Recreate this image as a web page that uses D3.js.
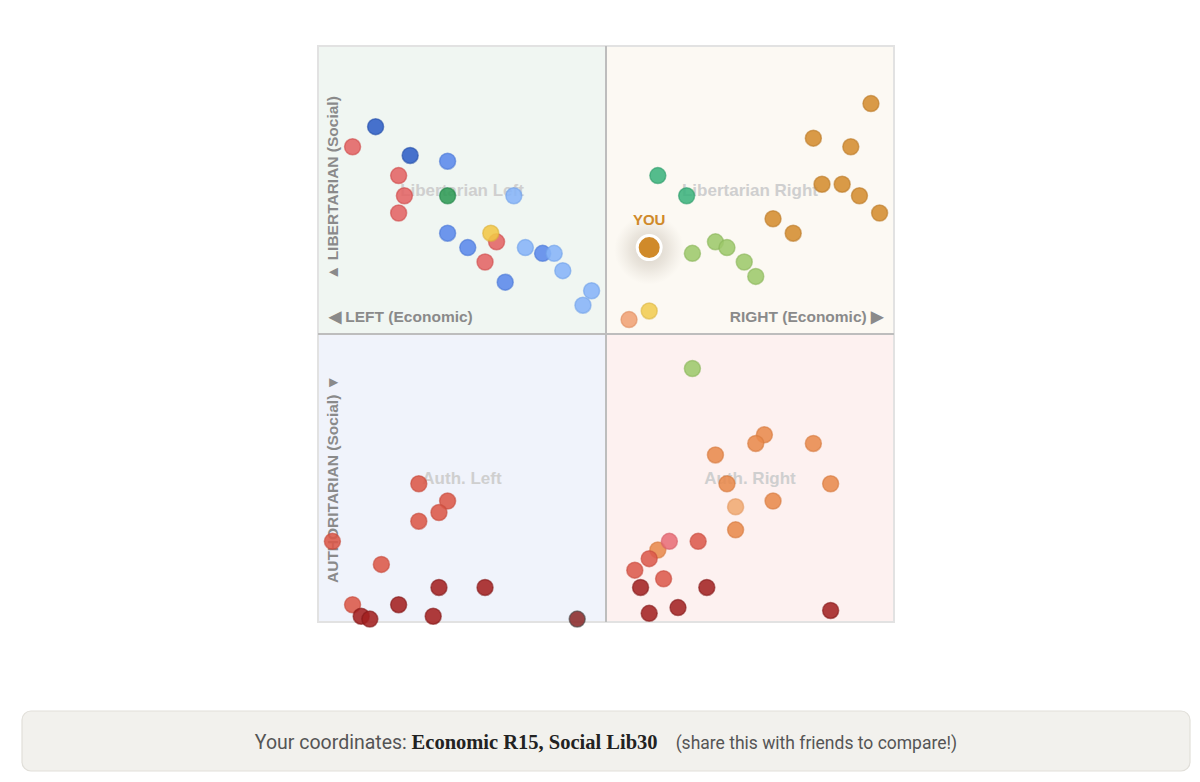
<!DOCTYPE html>
<html>
<head>
<meta charset="utf-8">
<script src="https://cdn.jsdelivr.net/npm/d3@7"></script>
<style>
  html, body { margin: 0; padding: 0; background: #ffffff; }
  svg { display: block; }
</style>
</head>
<body>
<svg id="chart" width="1200" height="782"></svg>
<script>
// ---- DATA: [economic (-100 left .. 100 right), social (-100 auth .. 100 lib)] ----
const libLeftRed = [[-88,65],[-72,55],[-70,48],[-72,42],[-38,32],[-42,25]];
const libLeftDarkBlue = [[-80,72],[-68,62]];
const libLeftBlue = [[-55,60],[-55,35],[-48,30],[-22,28],[-35,18]];
const libLeftLightBlue = [[-32,48],[-28,30],[-18,28],[-15,22],[-5,15],[-8,10]];
const libLeftGreen = [[-55,48]];
const libLeftYellow = [[-40,35]];
const libRightBrown = [[92,80],[72,68],[85,65],[75,52],[82,52],[88,48],[95,42],[58,40],[65,35]];
const libRightGreen = [[18,55],[28,48]];
const libRightLightGreen = [[30,28],[38,32],[42,30],[48,25],[52,20],[30,-12]];
const libRightYellow = [[15,8]];
const libRightPeach = [[8,5]];
const authLeftRed = [[-65,-52],[-55,-58],[-58,-62],[-65,-65],[-95,-72],[-78,-80],[-88,-94]];
const authLeftDarkRed = [[-58,-88],[-42,-88],[-72,-94],[-85,-98],[-82,-99],[-60,-98]];
const authLeftGray = [[-10,-99]];
const authRightOrange = [[55,-35],[52,-38],[72,-38],[38,-42],[42,-52],[78,-52],[58,-58],[45,-68],[18,-75]];
const authRightPeach = [[45,-60]];
const authRightPink = [[22,-72]];
const authRightRed = [[32,-72],[15,-78],[10,-82],[20,-85]];
const authRightDarkRed = [[12,-88],[35,-88],[25,-95],[15,-97],[78,-96]];
const you = [15, 30];

const quadrantLabels = ["Libertarian Left", "Libertarian Right", "Auth. Left", "Auth. Right"];
const axisLabels = ["\u25C0 LEFT (Economic)", "RIGHT (Economic) \u25B6", "\u25B2 LIBERTARIAN (Social)", "AUTHORITARIAN (Social) \u25BC"];
const coordText = ["Your coordinates: ", "Economic R15, Social Lib30", "(share this with friends to compare!)"];

// ---- series (groups -> colours) ----
const series = [
  {pts: libLeftRed, fill: "#e36464", stroke: "#cf4a4a"},
  {pts: libLeftDarkBlue, fill: "#2d5fc6", stroke: "#244fa8"},
  {pts: libLeftBlue, fill: "#5a89ea", stroke: "#4a77d6"},
  {pts: libLeftLightBlue, fill: "#86b4f8", stroke: "#72a2ea"},
  {pts: libLeftGreen, fill: "#2f9b55", stroke: "#23864a"},
  {pts: libLeftYellow, fill: "#f1c747", stroke: "#dcb03a"},
  {pts: libRightBrown, fill: "#d48c2f", stroke: "#bb7a26"},
  {pts: libRightGreen, fill: "#3cb37d", stroke: "#2f9d6a"},
  {pts: libRightLightGreen, fill: "#9dc86b", stroke: "#8ab65a"},
  {pts: libRightYellow, fill: "#f1cc52", stroke: "#dcb744"},
  {pts: libRightPeach, fill: "#f0a275", stroke: "#e08e60"},
  {pts: authLeftRed, fill: "#db5848", stroke: "#c6493b"},
  {pts: authLeftDarkRed, fill: "#a32020", stroke: "#841818"},
  {pts: authLeftGray, fill: "#8a2a2a", stroke: "#444444"},
  {pts: authRightOrange, fill: "#e88a4c", stroke: "#d6793e"},
  {pts: authRightPeach, fill: "#f0aa72", stroke: "#e29a62"},
  {pts: authRightPink, fill: "#e86e78", stroke: "#d65e68"},
  {pts: authRightRed, fill: "#dc5a4c", stroke: "#c84b3e"},
  {pts: authRightDarkRed, fill: "#a32222", stroke: "#861a1a"}
];

const svg = d3.select("#chart");
const x0 = 318, y0 = 46, size = 576;
const x = d3.scaleLinear().domain([-100, 100]).range([x0, x0 + size]);
const y = d3.scaleLinear().domain([-100, 100]).range([y0 + size, y0]);

// quadrants
const quads = [
  {x: [-100, 0], y: [100, 0], fill: "#f0f6f2"},
  {x: [0, 100], y: [100, 0], fill: "#fcf9f3"},
  {x: [-100, 0], y: [0, -100], fill: "#f0f3fb"},
  {x: [0, 100], y: [0, -100], fill: "#fdf1f0"}
];
svg.selectAll("rect.quad").data(quads).join("rect")
  .attr("class", "quad")
  .attr("x", d => x(d.x[0])).attr("y", d => y(d.y[0]))
  .attr("width", d => x(d.x[1]) - x(d.x[0]))
  .attr("height", d => y(d.y[1]) - y(d.y[0]))
  .attr("fill", d => d.fill);

// border
svg.append("rect").attr("x", x(-100)).attr("y", y(100))
  .attr("width", size).attr("height", size)
  .attr("fill", "none").attr("stroke", "#e2e2e2").attr("stroke-width", 2);

// center lines
svg.append("line").attr("x1", x(0)).attr("x2", x(0)).attr("y1", y(100)).attr("y2", y(-100))
  .attr("stroke", "#bdbdbd").attr("stroke-width", 2);
svg.append("line").attr("x1", x(-100)).attr("x2", x(100)).attr("y1", y(0)).attr("y2", y(0))
  .attr("stroke", "#bdbdbd").attr("stroke-width", 2);

// quadrant labels
const qpos = [[-50, 50], [50, 50], [-50, -50], [50, -50]];
svg.selectAll("text.qlab").data(quadrantLabels).join("text")
  .attr("class", "qlab")
  .attr("x", (d, i) => x(qpos[i][0]))
  .attr("y", (d, i) => y(qpos[i][1]) + 6)
  .attr("text-anchor", "middle")
  .attr("font-family", "Liberation Sans, Arial, sans-serif")
  .attr("font-weight", "bold")
  .attr("font-size", 17)
  .attr("fill", "#cfcfcf")
  .text(d => d);

// axis labels
const axFont = "Liberation Sans, Arial, sans-serif";
const axSize = 15.5;
svg.append("text").attr("x", x(-100) + 11).attr("y", y(0) - 12)
  .attr("font-family", axFont).attr("font-weight", "bold").attr("font-size", axSize)
  .attr("fill", "#8a8a8a").text(axisLabels[0]);
svg.append("text").attr("x", x(100) - 11).attr("y", y(0) - 12)
  .attr("text-anchor", "end")
  .attr("font-family", axFont).attr("font-weight", "bold").attr("font-size", axSize)
  .attr("fill", "#8a8a8a").text(axisLabels[1]);
svg.append("text")
  .attr("transform", `translate(${x(-100) + 20},${y(0) - 54}) rotate(-90)`)
  .attr("font-family", axFont).attr("font-weight", "bold").attr("font-size", axSize)
  .attr("fill", "#8a8a8a").text(axisLabels[2]);
svg.append("text")
  .attr("transform", `translate(${x(-100) + 20},${y(0) + 249}) rotate(-90)`)
  .attr("font-family", axFont).attr("font-weight", "bold").attr("font-size", axSize)
  .attr("fill", "#8a8a8a").text(axisLabels[3]);

// dots
const g = svg.append("g");
series.forEach(s => {
  g.selectAll(null).data(s.pts).join("circle")
    .attr("cx", d => x(d[0])).attr("cy", d => y(d[1]))
    .attr("r", 8)
    .attr("fill", s.fill).attr("fill-opacity", 0.88)
    .attr("stroke", s.stroke).attr("stroke-opacity", 0.6).attr("stroke-width", 1.5);
});

// YOU marker
const defs = svg.append("defs");
const rg = defs.append("radialGradient").attr("id", "glow");
rg.append("stop").attr("offset", "0%").attr("stop-color", "#8a7a66").attr("stop-opacity", 0.35);
rg.append("stop").attr("offset", "55%").attr("stop-color", "#9a8c7a").attr("stop-opacity", 0.18);
rg.append("stop").attr("offset", "100%").attr("stop-color", "#b0a696").attr("stop-opacity", 0);
svg.append("circle").attr("cx", x(you[0])).attr("cy", y(you[1]) + 2).attr("r", 35).attr("fill", "url(#glow)");
svg.append("circle").attr("cx", x(you[0])).attr("cy", y(you[1])).attr("r", 12)
  .attr("fill", "#d08a2a").attr("stroke", "#ffffff").attr("stroke-width", 3);
svg.append("text").attr("x", x(you[0])).attr("y", y(you[1]) - 23)
  .attr("text-anchor", "middle")
  .attr("font-family", axFont).attr("font-weight", "bold").attr("font-size", 15)
  .attr("fill", "#d08a2a").text("YOU");

// bottom coordinate box
svg.append("rect").attr("x", 22).attr("y", 711).attr("width", 1168).attr("height", 60)
  .attr("rx", 9).attr("fill", "#f2f1ed").attr("stroke", "#e1dfd9").attr("stroke-width", 1.2);
const t = svg.append("text").attr("x", 606).attr("y", 749).attr("text-anchor", "middle");
t.append("tspan").attr("font-family", "Roboto, Liberation Sans, sans-serif").attr("font-size", 19.5)
  .attr("fill", "#555").text(coordText[0]);
t.append("tspan").attr("font-family", "Liberation Serif, serif").attr("font-weight", "bold")
  .attr("font-size", 20.5).attr("fill", "#222").text(coordText[1]);
t.append("tspan").attr("dx", 18).attr("font-family", "Roboto, Liberation Sans, sans-serif").attr("font-size", 17.5)
  .attr("fill", "#555").text(coordText[2]);
</script>
</body>
</html>
